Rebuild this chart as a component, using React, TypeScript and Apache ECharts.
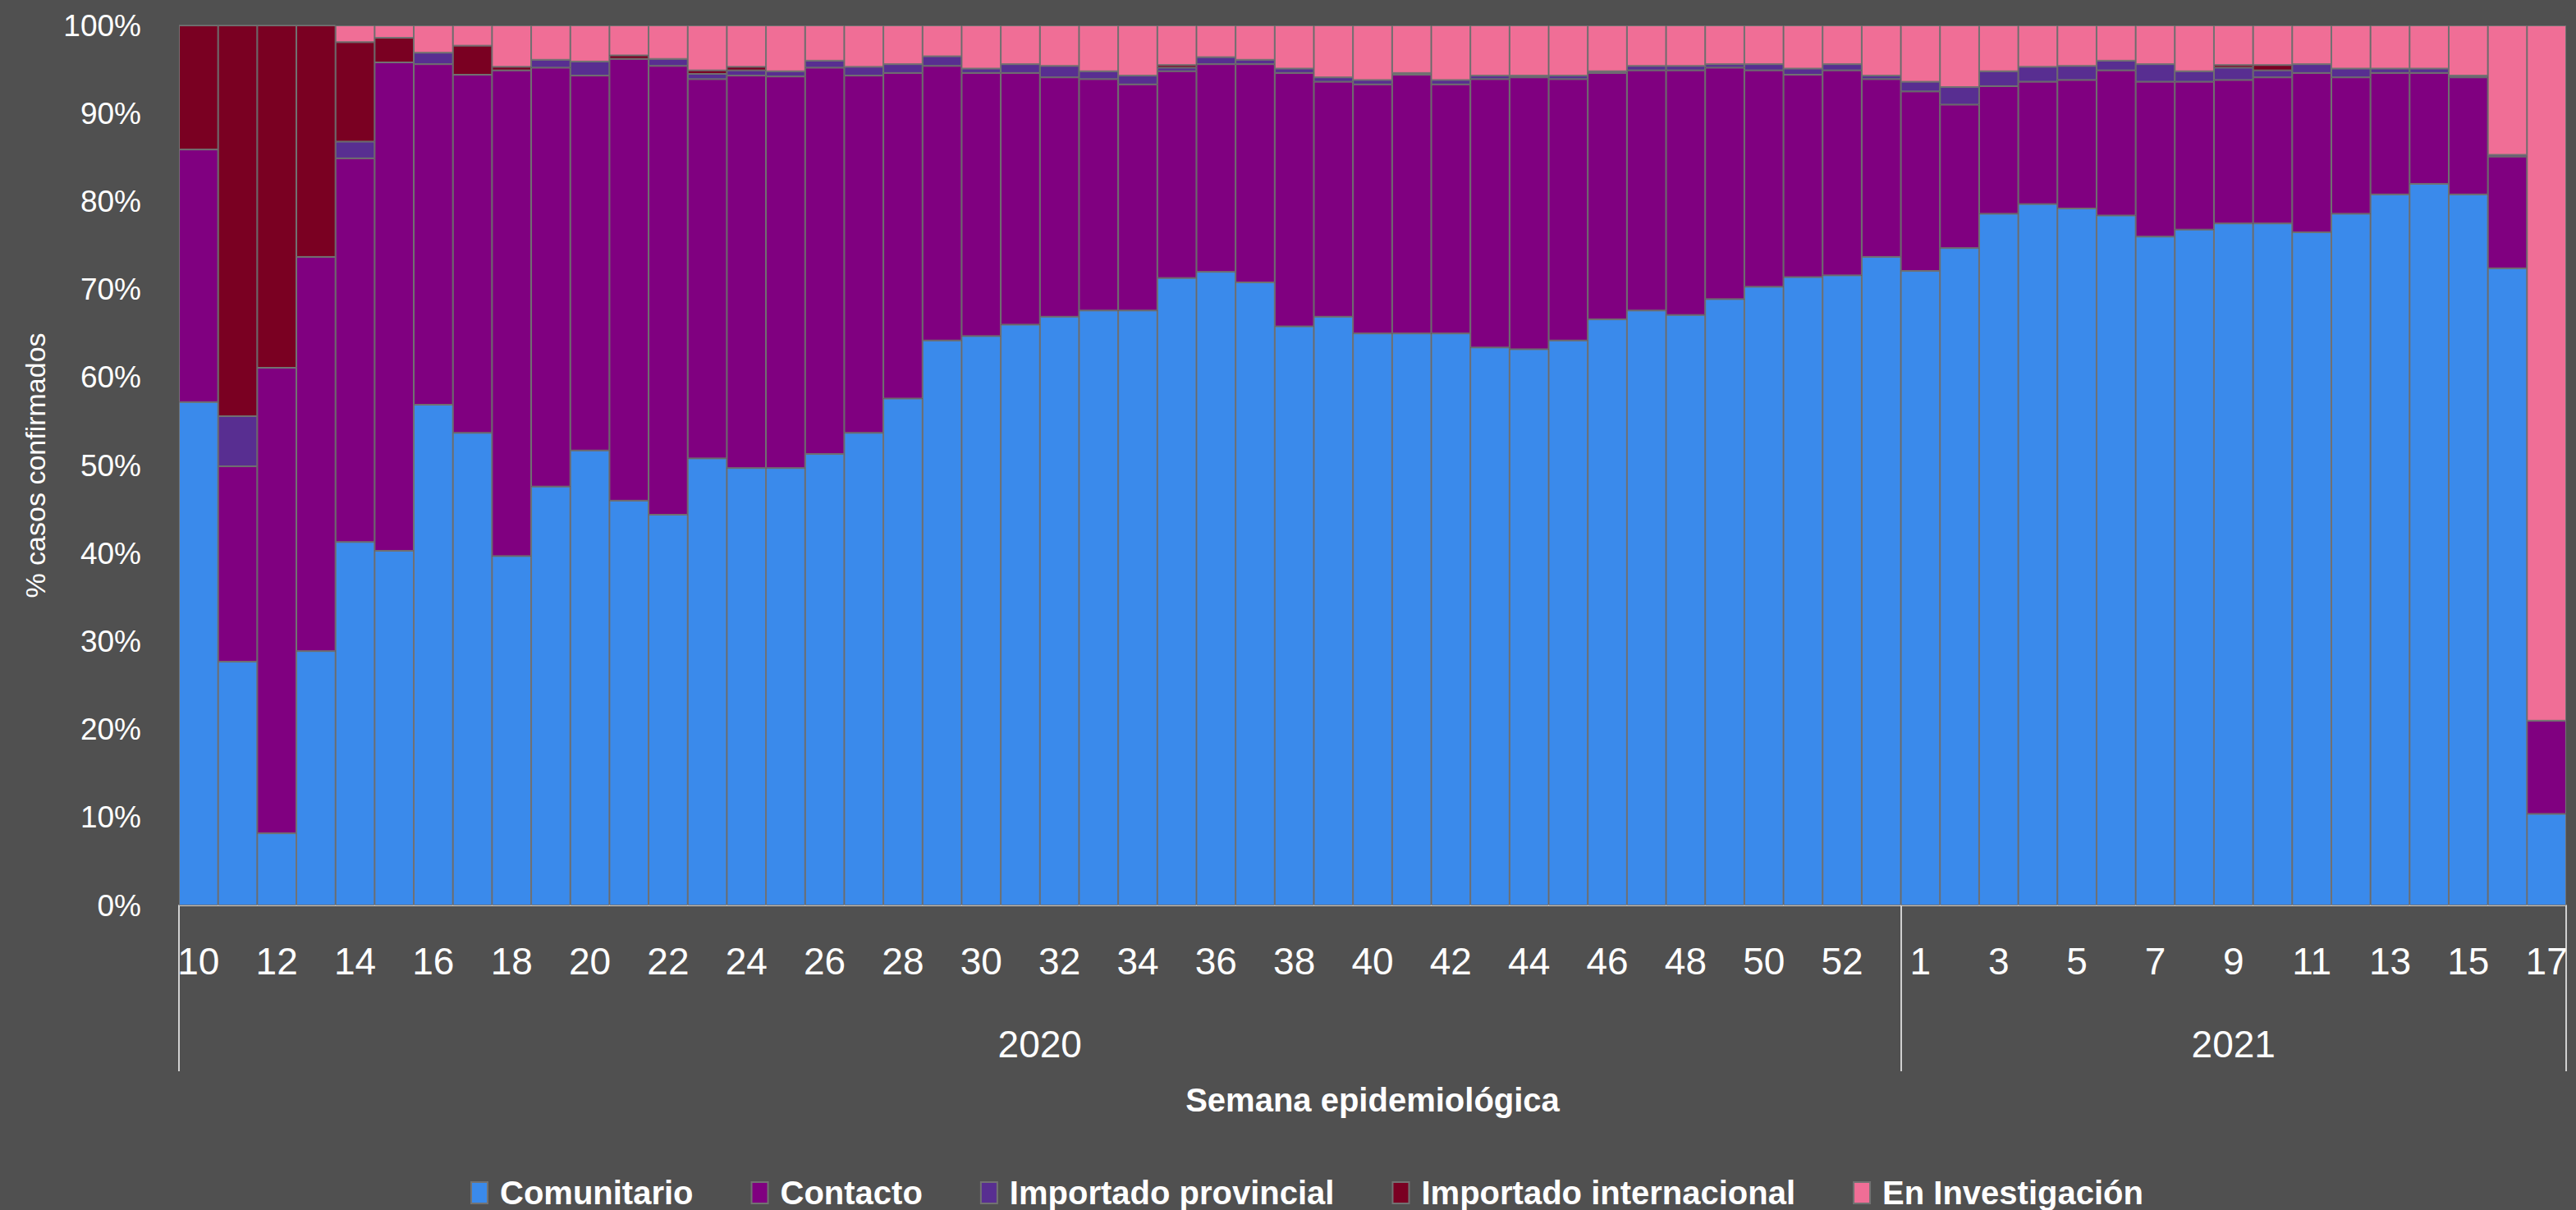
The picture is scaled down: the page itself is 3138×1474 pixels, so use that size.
import React, { useEffect, useRef } from 'react';
import * as echarts from 'echarts';

const weeks2020 = [10, 11, 12, 13, 14, 15, 16, 17, 18, 19, 20, 21, 22, 23, 24, 25, 26, 27, 28, 29, 30, 31, 32, 33, 34, 35, 36, 37, 38, 39, 40, 41, 42, 43, 44, 45, 46, 47, 48, 49, 50, 51, 52, 53];
const weeks2021 = [1, 2, 3, 4, 5, 6, 7, 8, 9, 10, 11, 12, 13, 14, 15, 16, 17];
const yearLabels = ['2020', '2021'];

const seriesNames = ['Comunitario', 'Contacto', 'Importado provincial', 'Importado internacional', 'En Investigación'];
const seriesColors = ['#3a8aeb', '#800080', '#582e91', '#7a0022', '#f06e96'];

const comunitario = [57.2, 27.7, 8.2, 28.9, 41.3, 40.3, 56.9, 53.7, 39.7, 47.6, 51.7, 46.0, 44.4, 50.8, 49.7, 49.7, 51.3, 53.7, 57.6, 64.2, 64.7, 66.0, 66.9, 67.6, 67.6, 71.3, 72.0, 70.8, 65.8, 66.9, 65.0, 65.0, 65.0, 63.4, 63.2, 64.2, 66.6, 67.6, 67.1, 68.9, 70.3, 71.4, 71.6, 73.7,
  72.1, 74.7, 78.6, 79.7, 79.2, 78.4, 76.0, 76.8, 77.5, 77.5, 76.5, 78.6, 80.8, 82.0, 80.8, 72.4, 10.4];
const contacto = [28.7, 22.2, 52.9, 44.8, 43.6, 55.5, 38.7, 40.7, 55.2, 47.6, 42.6, 50.2, 51.0, 43.1, 44.6, 44.5, 43.9, 40.6, 37.0, 31.2, 29.9, 28.6, 27.2, 26.3, 25.7, 23.5, 23.6, 24.8, 28.8, 26.7, 28.3, 29.4, 28.3, 30.5, 30.9, 29.7, 28.0, 27.3, 27.8, 26.3, 24.6, 23.0, 23.3, 20.2,
  20.4, 16.3, 14.5, 13.9, 14.6, 16.5, 17.6, 16.8, 16.3, 16.6, 18.1, 15.5, 13.8, 12.6, 13.3, 12.7, 10.6];
const importadoProvincial = [0, 5.7, 0, 0, 1.9, 0, 1.3, 0, 0, 0.9, 1.6, 0, 0.8, 0.6, 0.6, 0.6, 0.8, 1.0, 1.0, 1.1, 0.5, 1.0, 1.3, 0.9, 1.0, 0.4, 0.8, 0.5, 0.5, 0.5, 0.5, 0.2, 0.5, 0.4, 0.2, 0.4, 0.2, 0.5, 0.5, 0.4, 0.7, 0.7, 0.7, 0.4,
  1.1, 2.0, 1.7, 1.7, 1.6, 1.1, 2.0, 1.2, 1.4, 0.8, 1.0, 1.0, 0.5, 0.5, 0.2, 0.2, 0];
const importadoInternacional = [14.1, 44.4, 38.9, 26.3, 11.3, 2.8, 0, 3.3, 0.4, 0, 0, 0.4, 0, 0.4, 0.4, 0, 0, 0, 0, 0, 0, 0, 0, 0, 0, 0.3, 0, 0, 0, 0, 0, 0, 0, 0, 0, 0, 0, 0, 0, 0, 0, 0, 0, 0,
  0, 0, 0, 0, 0, 0, 0, 0, 0.3, 0.6, 0, 0, 0, 0, 0, 0, 0];
const enInvestigacion = [0, 0, 0, 0, 1.9, 1.4, 3.1, 2.3, 4.7, 3.9, 4.1, 3.4, 3.8, 5.1, 4.7, 5.2, 4.0, 4.7, 4.4, 3.5, 4.9, 4.4, 4.6, 5.2, 5.7, 4.5, 3.6, 3.9, 4.9, 5.9, 6.2, 5.4, 6.2, 5.7, 5.7, 5.7, 5.2, 4.6, 4.6, 4.4, 4.4, 4.9, 4.4, 5.7,
  6.4, 7.0, 5.2, 4.7, 4.6, 4.0, 4.4, 5.2, 4.5, 4.5, 4.4, 4.9, 4.9, 4.9, 5.7, 14.7, 79.0];

const yTicks = [0, 10, 20, 30, 40, 50, 60, 70, 80, 90, 100];

const FONT = 'Liberation Sans';
const TEXT = '#ffffff';

export default function App() {
  const ref = useRef<HTMLDivElement>(null);

  useEffect(() => {
    if (!ref.current) return;
    const chart = echarts.init(ref.current, null, { renderer: 'svg' });
    const categories = [
      ...weeks2020.map((w) => `${yearLabels[0]}-${w}`),
      ...weeks2021.map((w) => `${yearLabels[1]}-${w}`),
    ];
    const n = categories.length;
    const split = weeks2020.length;
    const values = [comunitario, contacto, importadoProvincial, importadoInternacional, enInvestigacion];

    const option: any = {
      animation: false,
      backgroundColor: '#505050',
      textStyle: { fontFamily: FONT },
      grid: { left: 218, right: 12, top: 31, bottom: 371, containLabel: false },
      legend: {
        data: seriesNames,
        top: 1426,
        left: 568,
        icon: 'rect',
        itemWidth: 20,
        itemHeight: 26,
        itemGap: 70,
        textStyle: { color: TEXT, fontSize: 40, fontWeight: 'bold', fontFamily: FONT, lineHeight: 44, padding: [0, 0, 0, 10] },
      },
      xAxis: [
        {
          type: 'category',
          data: categories,
          position: 'bottom',
          axisLine: { show: true, lineStyle: { color: '#c8c8c8', width: 2 } },
          axisTick: { show: false },
          axisLabel: {
            interval: 1,
            margin: 45,
            color: TEXT,
            fontSize: 46,
            lineHeight: 46,
            fontFamily: FONT,
            formatter: (v: string) => v.split('-')[1],
          },
          name: 'Semana epidemiológica',
          nameLocation: 'middle',
          nameGap: 217,
          nameTextStyle: { color: TEXT, fontSize: 40, fontWeight: 'bold', fontFamily: FONT, lineHeight: 40 },
          splitLine: { show: false },
        },
        {
          type: 'value',
          min: 0,
          max: n,
          position: 'bottom',
          axisLine: { show: false },
          splitLine: { show: false },
          axisTick: {
            show: true,
            customValues: [0, split, n],
            length: 202,
            lineStyle: { color: '#d0d0d0', width: 2 },
          },
          axisLabel: {
            customValues: [split / 2, (split + n) / 2],
            formatter: (v: number) => (v < split ? yearLabels[0] : yearLabels[1]),
            margin: 146,
            color: TEXT,
            fontSize: 46,
            lineHeight: 46,
            fontFamily: FONT,
          },
        },
      ],
      yAxis: {
        type: 'value',
        min: yTicks[0],
        max: yTicks[yTicks.length - 1],
        interval: 10,
        axisLine: { show: false },
        axisTick: { show: false },
        splitLine: { show: false },
        axisLabel: { formatter: '{value}%', margin: 46, color: TEXT, fontSize: 37, fontFamily: FONT },
        name: '% casos confirmados',
        nameLocation: 'middle',
        nameRotate: 90,
        nameGap: 158,
        nameTextStyle: { color: TEXT, fontSize: 34, fontFamily: FONT },
      },
      series: seriesNames.map((name, i) => ({
        name,
        type: 'bar',
        stack: 'total',
        xAxisIndex: 0,
        barCategoryGap: '0%',
        data: values[i],
        itemStyle: { color: seriesColors[i], borderColor: '#727272', borderWidth: 1 },
        emphasis: { disabled: true },
      })),
    };
    chart.setOption(option);
    return () => chart.dispose();
  }, []);

  return <div ref={ref} style={{ position: 'fixed', left: 0, top: 0, width: 3138, height: 1474 }} />;
}
